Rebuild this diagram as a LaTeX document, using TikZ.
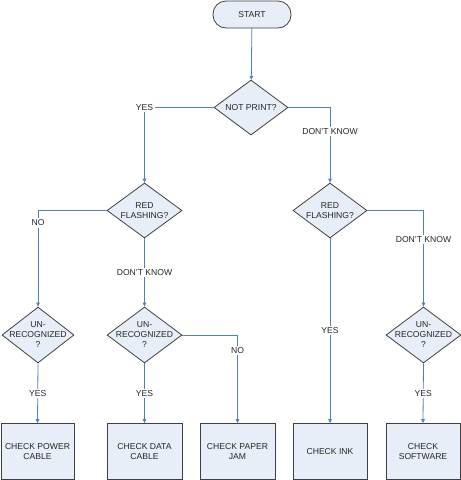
\documentclass[tikz,border=0pt]{standalone}
\usepackage{fontspec}
\setmainfont{Liberation Sans}
\usetikzlibrary{shapes.geometric,arrows.meta}
\definecolor{boxfill}{HTML}{E8EEF7}
\definecolor{boxline}{HTML}{404040}
\definecolor{edgeblue}{HTML}{4F81BD}
\tikzset{
  txt/.style={font=\fontsize{8.6}{10}\selectfont, align=center, text=black!85},
  startbox/.style={draw=boxline, fill=boxfill, rounded corners=13pt, minimum width=78pt, minimum height=27pt, inner sep=0pt, line width=0.8pt, txt},
  decide/.style={diamond, draw=boxline, fill=boxfill, minimum width=#1, minimum height=55pt, inner sep=0pt, line width=0.8pt},
  decide/.default=75pt,
  actbox/.style={rectangle, draw=boxline, fill=boxfill, minimum width=74pt, minimum height=55.5pt, inner sep=0pt, line width=0.8pt, txt},
  arr/.style={draw=edgeblue, line width=0.8pt, -{Triangle[length=4pt,width=3.6pt]}},
  lbl/.style={fill=white, inner sep=1.5pt, txt}
}
\begin{document}
\begin{tikzpicture}[x=1pt,y=-1pt]
\useasboundingbox (0,0) rectangle (461,480);
\node[startbox] (start) at (252,14.5) {START};
\node[decide=74pt, label={[txt]center:NOT PRINT?}] (np) at (251,107.5) {};
\node[decide, label={[txt]center:RED\\FLASHING?}] (rf1) at (144.5,210.5) {};
\node[decide=74pt, label={[txt]center:RED\\FLASHING?}] (rf2) at (330,210.5) {};
\node[decide=72pt, minimum height=56pt, label={[txt]center:UN-\\RECOGNIZED\\?}] (u1) at (38,335) {};
\node[decide, minimum height=56pt, label={[txt]center:UN-\\RECOGNIZED\\?}] (u2) at (144.5,335) {};
\node[decide, minimum height=56pt, label={[txt]center:UN-\\RECOGNIZED\\?}] (u3) at (423.5,335) {};
\node[actbox, minimum width=73pt] (b1) at (37.5,451.25) {CHECK POWER\\CABLE};
\node[actbox, minimum width=75pt] (b2) at (144.5,451.25) {CHECK DATA\\CABLE};
\node[actbox, minimum width=75pt] (b3) at (237.5,451.25) {CHECK PAPER\\JAM};
\node[actbox] (b4) at (330,451.25) {CHECK INK};
\node[actbox] (b5) at (423,451.25) {CHECK\\SOFTWARE};
\draw[arr] (start) -- (np);
\draw[arr] (np.west) -| node[pos=0.5,lbl]{YES} (rf1.north);
\draw[arr] (np.east) -| node[pos=0.662,lbl]{DON'T KNOW} (rf2.north);
\draw[arr] (rf1.west) -| node[pos=0.565,lbl]{NO} (u1.north);
\draw[arr] (rf1.south) -- node[midway,lbl]{DON'T KNOW} (u2.north);
\draw[arr] (rf2.east) -| node[pos=0.653,lbl]{DON'T KNOW} (u3.north);
\draw[arr] (rf2.south) -- node[midway,lbl]{YES} (b4.north);
\draw[arr] (u1.south) -- node[midway,lbl]{YES} (b1.north);
\draw[arr] (u2.south) -- node[midway,lbl]{YES} (b2.north);
\draw[arr] (u2.east) -| node[pos=0.59,lbl]{NO} (b3.north);
\draw[arr] (u3.south) -- node[midway,lbl]{YES} (b5.north);
\end{tikzpicture}
\end{document}
